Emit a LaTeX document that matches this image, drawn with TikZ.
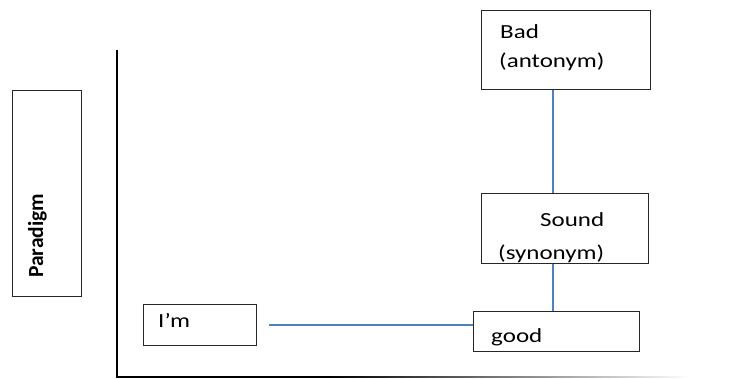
\documentclass[tikz,border=0pt]{standalone}
\usepackage{fontspec}
\setmainfont{Carlito}
\newfontfamily\wordfont[FakeStretch=1.25]{Carlito}
\definecolor{linkblue}{RGB}{79,129,189}
\tikzset{
  wordbox/.style={draw=black!85, line width=0.9pt, anchor=north west, inner sep=0pt},
  word/.style={anchor=base west, inner sep=0pt, font=\wordfont\fontsize{20}{24}\selectfont},
  link/.style={draw=linkblue, line width=1.4pt},
  axis/.style={draw=black, line width=1.6pt}
}
\begin{document}
\begin{tikzpicture}[x=1pt,y=-1pt]
	\useasboundingbox (0,0) rectangle (739,379);
	% axes
	\coordinate (ytop) at (117,50);
	\coordinate (origin) at (117,377);
	\coordinate (xmid) at (330,377);
	\draw[axis] (ytop) -- (origin) -- (xmid);
	\shade[left color=black, right color=white] (330,376.2) rectangle (690,377.8);
	% boxes
	\node[wordbox, minimum width=69pt, minimum height=206pt] (para) at (12,90) {};
	\node[wordbox, minimum width=169pt, minimum height=79pt] (bad) at (481,10) {};
	\node[wordbox, minimum width=167pt, minimum height=70pt] (sound) at (481,193) {};
	\node[wordbox, minimum width=166pt, minimum height=40pt] (good) at (473,311) {};
	\node[wordbox, minimum width=113pt, minimum height=41pt] (im) at (143,304) {};
	% texts
	\node[anchor=base west, rotate=90, inner sep=0pt, font=\bfseries\fontsize{21.5}{24}\selectfont] (paratxt) at (43,278) {Paradigm};
	\node[word] (badtxt) at (500,39) {Bad};
	\node[word] (antotxt) at (499,68) {(antonym)};
	\node[word] (soundtxt) at (540,227) {Sound};
	\begin{scope}
		\clip (sound.north west) rectangle (sound.south east);
		\node[word] (syntxt) at (498,260) {(synonym)};
	\end{scope}
	\begin{scope}
		\clip (good.north west) rectangle (good.south east);
		\node[word] (goodtxt) at (491,342) {good};
	\end{scope}
	\node[word] (imtxt) at (158,327) {I’m};
	% connectors
	\coordinate (col) at (553,0);
	\draw[link] (bad.south -| col) -- (sound.north -| col);
	\draw[link] (sound.south -| col) -- (good.north -| col);
	\draw[link] ([xshift=12pt]im.east) -- (im.east -| good.west);
\end{tikzpicture}
\end{document}
